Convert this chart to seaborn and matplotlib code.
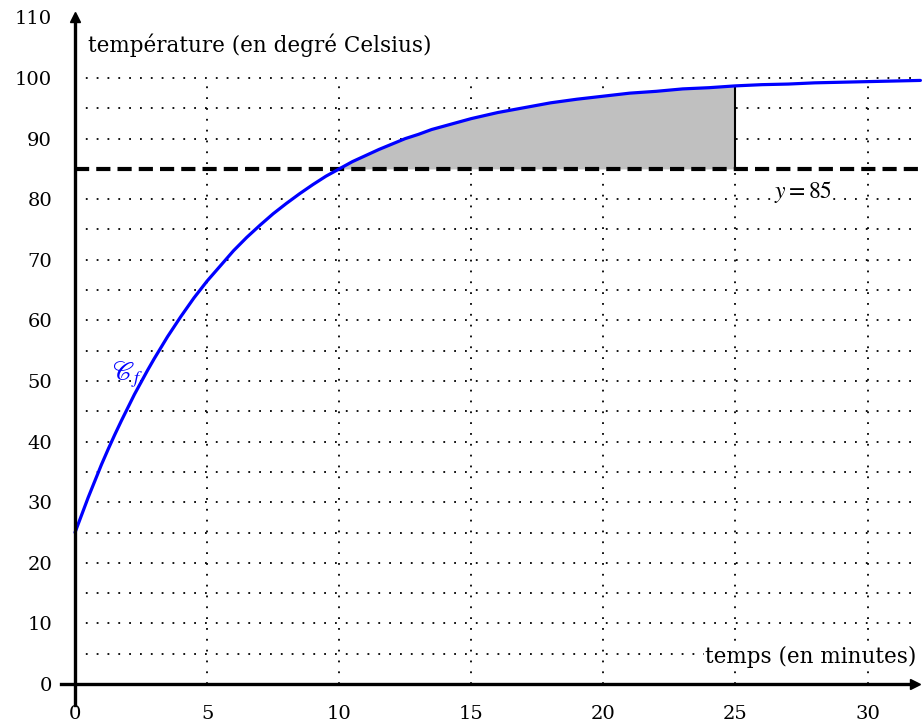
import numpy as np
import pandas as pd
import matplotlib
matplotlib.use("Agg")
import matplotlib.pyplot as plt
import seaborn as sns

# values
time_min = [0, 0.25, 0.5, 0.75, 1, 1.25, 1.5, 1.75, 2, 2.25, 2.5, 2.75, 3, 3.5,
            4, 4.5, 5, 5.5, 6, 6.5, 7, 7.5, 8, 8.5, 9, 9.5, 10, 10.5, 11, 11.5,
            12, 12.5, 13, 13.5, 14, 14.5, 15, 16, 17, 18, 19, 20, 21, 22, 23,
            24, 25, 26, 27, 28, 29, 30, 31, 32]
temperature = [25.0, 27.9, 30.8, 33.5, 36.2, 38.7, 41.1, 43.4, 45.6, 47.8,
               49.8, 51.8, 53.7, 57.3, 60.6, 63.7, 66.5, 69.0, 71.5, 73.7,
               75.7, 77.6, 79.3, 80.9, 82.4, 83.8, 85.0, 86.2, 87.2, 88.2,
               89.1, 90.0, 90.7, 91.5, 92.1, 92.7, 93.3, 94.3, 95.1, 95.9,
               96.5, 97.0, 97.5, 97.8, 98.2, 98.4, 98.7, 98.9, 99.0, 99.2,
               99.3, 99.4, 99.5, 99.6]
x_ticks = [0, 5, 10, 15, 20, 25, 30]
y_ticks = [0, 10, 20, 30, 40, 50, 60, 70, 80, 90, 100, 110]
grid_x = [5, 10, 15, 20, 25, 30]
grid_y = [5, 10, 15, 20, 25, 30, 35, 40, 45, 50, 55, 60, 65, 70, 75, 80, 90, 95, 100]
threshold = 85
area_start, area_end = 10, 25

df = pd.DataFrame({"temps": time_min, "temperature": temperature})

sns.set_theme(style="white")
plt.rcParams["font.family"] = ["DejaVu Serif"]
plt.rcParams["mathtext.fontset"] = "stix"
plt.rcParams["text.color"] = "black"

fig = plt.figure(figsize=(9.22, 7.28), dpi=100)
ax = fig.add_axes([0, 0, 1, 1])

# dotted grid
dots = (0, (1, 5))
ax.hlines(grid_y, 0, 32, colors="black", linestyles=[dots], lw=1.3, zorder=1)
ax.vlines(grid_x, 0, 100, colors="black", linestyles=[dots], lw=1.3, zorder=1)

# shaded area between curve and y = 85
area = df[(df.temps >= area_start) & (df.temps <= area_end)]
ax.fill_between(area.temps, threshold, area.temperature, color="#c0c0c0", lw=0, zorder=2)
top_25 = df.loc[df.temps == area_end, "temperature"].iloc[0]
ax.plot([area_end, area_end], [threshold, top_25], color="black", lw=1.5, zorder=3)

# threshold line
ax.hlines(threshold, 0, 32.1, colors="black", lw=3, linestyles=[(0, (3.4, 1.7))], zorder=3)

# curve
sns.lineplot(data=df, x="temps", y="temperature", color="blue", lw=2.3, ax=ax, zorder=4)
ax.lines[-1].set_solid_joinstyle("round")

ax.set_xlim(-2.84, 32.06)
ax.set_ylim(-7.26, 112.87)

# axes through the origin
for side in ["top", "right"]:
    ax.spines[side].set_visible(False)
ax.spines["left"].set_position(("data", 0))
ax.spines["bottom"].set_position(("data", 0))
ax.spines["left"].set_bounds(-3.5, 110)
ax.spines["bottom"].set_bounds(-0.53, 31.8)
for side in ["left", "bottom"]:
    ax.spines[side].set_linewidth(2.4)
    ax.spines[side].set_color("black")
    ax.spines[side].set_zorder(5)
ax.plot(0, 110, marker="^", color="black", ms=7, clip_on=False, zorder=6)
ax.plot(31.8, 0, marker=">", color="black", ms=7, clip_on=False, zorder=6)

ax.set_xticks(x_ticks)
ax.set_yticks(y_ticks)
ax.tick_params(axis="x", direction="inout", length=16, width=1.1, pad=7,
               labelsize=14, colors="black")
ax.tick_params(axis="y", direction="inout", length=15, width=1.1, pad=9,
               labelsize=14, colors="black")
ax.set_xlabel("")
ax.set_ylabel("")

# annotations
ax.text(0.5, 105.4, "température (en degré Celsius)", fontsize=15.5,
        ha="left", va="center")
ax.text(31.85, 4.4, "temps (en minutes)", fontsize=15.5, ha="right", va="center",
        bbox=dict(facecolor="white", edgecolor="none", pad=1), zorder=5)
ax.text(27.55, 81.2, "$y = 85$", fontsize=17, ha="center", va="center",
        bbox=dict(facecolor="white", edgecolor="none", pad=1), zorder=5)
ax.text(2.0, 51, r"$\mathscr{C}_f$", fontsize=19, color="blue", ha="center",
        va="center", zorder=5)

fig.savefig("out.png", dpi=100)
